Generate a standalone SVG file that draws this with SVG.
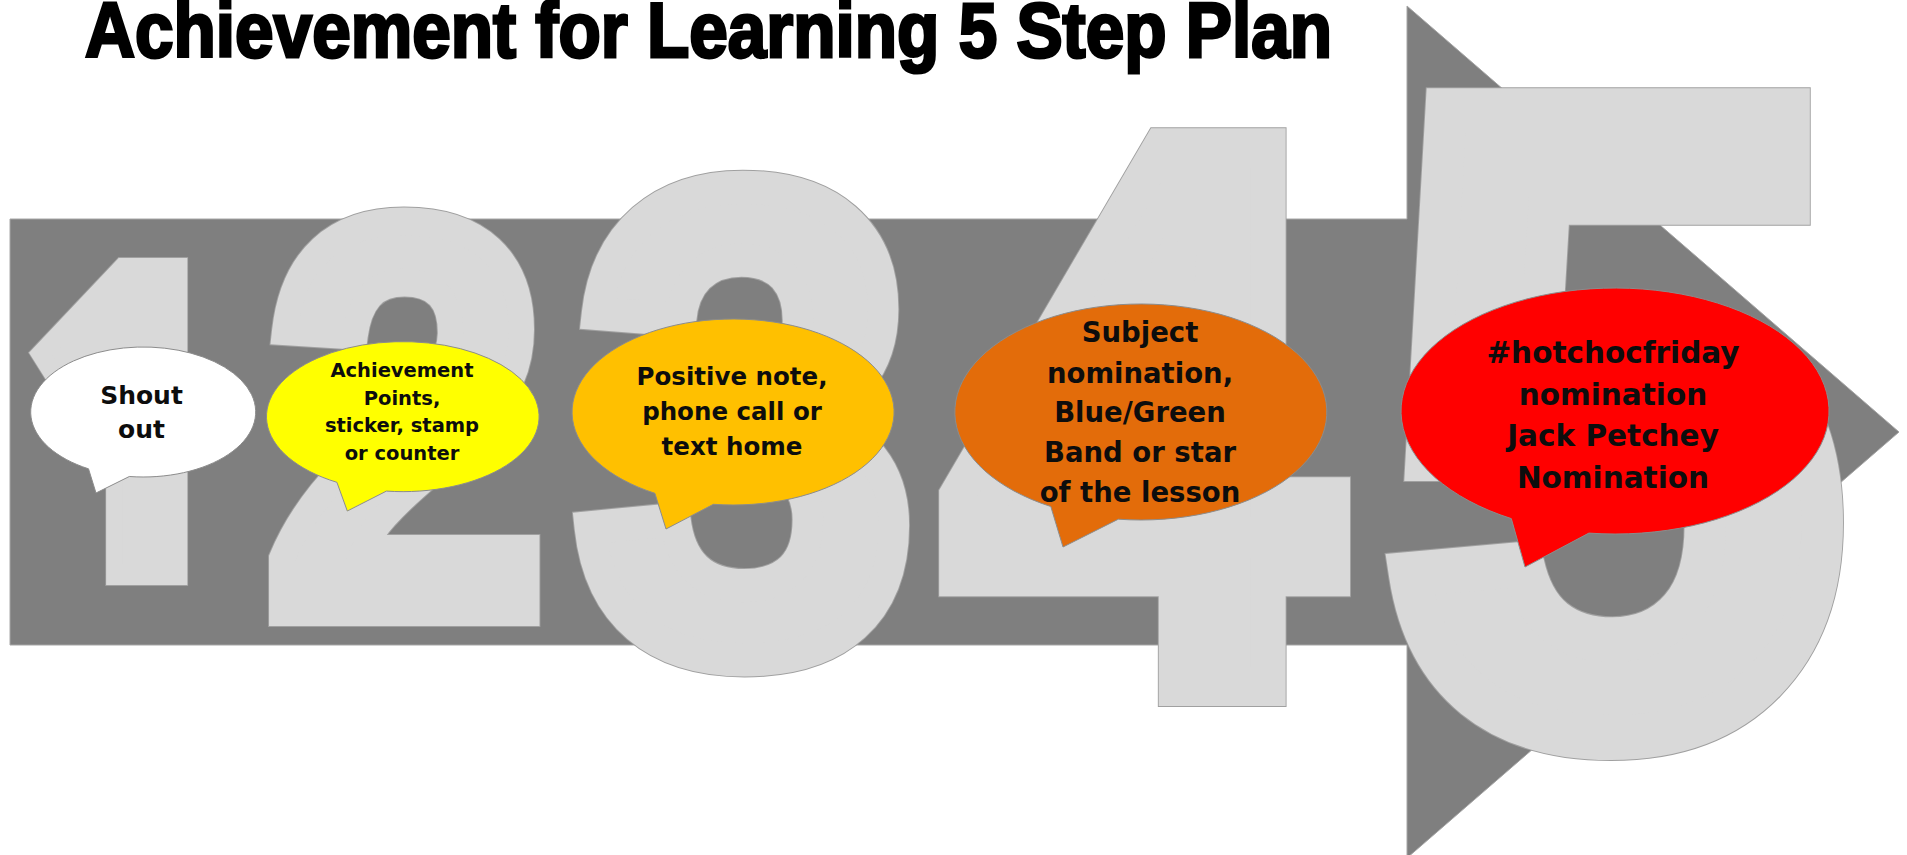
<svg xmlns="http://www.w3.org/2000/svg" width="1907" height="855" viewBox="0 0 1907 855">
<style>
.title{font-family:"Liberation Sans",Arial,sans-serif;font-weight:bold;font-size:78px;fill:#000;stroke:#000;stroke-width:3px}
.dg{font-family:"Liberation Sans",Arial,sans-serif;font-weight:bold;stroke-linejoin:miter;stroke-miterlimit:3}
.dg1{font-family:"Open Sans","Noto Sans",sans-serif;font-weight:800;stroke-linejoin:miter;stroke-miterlimit:3}
.dgo{fill:#a0a0a0;stroke:#a0a0a0}
.dgf{fill:#d9d9d9;stroke:#d9d9d9}
.bt{font-family:"DejaVu Sans",Verdana,sans-serif;font-weight:bold;fill:#0d0d0d;text-anchor:middle}
.bub{stroke:#8c8c8c;stroke-width:1}
</style>
<rect width="1907" height="855" fill="#fff"/>
<text id="title" class="title" x="85" y="57" textLength="1247" lengthAdjust="spacingAndGlyphs">Achievement for Learning 5 Step Plan</text>
<g id="arrow">
<polygon points="10,219 1407,219 1407,6 1899,432 1407,858 1407,645 10,645" fill="#7f7f7f" stroke="#a6a6a6" stroke-width="1"/>
</g>
<g id="digit-1" transform="translate(27.1,574.3) scale(0.772,1)">
<text class="dg1 dgo" font-size="428" stroke-width="23.4">1</text>
<text class="dg1 dgf" font-size="428" stroke-width="21.4">1</text>
</g>
<g id="digit-2" transform="translate(264.1,612) scale(0.91,1)">
<text class="dg dgo" font-size="559.3" stroke-width="29.9">2</text>
<text class="dg dgf" font-size="559.3" stroke-width="27.9">2</text>
</g>
<g id="digit-3" transform="translate(575.9,652.3) scale(0.918,1)">
<text class="dg dgo" font-size="666" stroke-width="35.3">3</text>
<text class="dg dgf" font-size="666" stroke-width="33.3">3</text>
</g>
<g id="digit-4" transform="translate(946.1,686.5) scale(0.896,1)">
<text class="dg dgo" font-size="783" stroke-width="41.2">4</text>
<text class="dg dgf" font-size="783" stroke-width="39.2">4</text>
</g>
<g id="digit-5" transform="translate(1384.2,728.8) scale(0.923,1)">
<text class="dg dgo" font-size="898.4" stroke-width="46.9">5</text>
<text class="dg dgf" font-size="898.4" stroke-width="44.9">5</text>
</g>
<g id="connectors"></g>
<g id="bubble-1">
<path class="bub" fill="#ffffff" d="M129.3,476.5 A112.5,65 0 1 0 88.5,468.8 L96,493 Z"/>
<text class="bt" font-size="25" x="141.5" y="404">Shout</text>
<text class="bt" font-size="25" x="141.5" y="438">out</text>
</g>
<g id="bubble-2">
<path class="bub" fill="#ffff00" d="M386.4,491.1 A136.3,75 0 1 0 336.9,482.3 L347.3,511 Z"/>
<text class="bt" font-size="19.5" x="402" y="377">Achievement</text>
<text class="bt" font-size="19.5" x="402" y="404.5">Points,</text>
<text class="bt" font-size="19.5" x="402" y="432">sticker, stamp</text>
<text class="bt" font-size="19.5" x="402" y="459.5">or counter</text>
</g>
<g id="bubble-3">
<path class="bub" fill="#ffc000" d="M713.4,504.3 A161,93 0 1 0 654.9,493.3 L666,529 Z"/>
<text class="bt" font-size="24.5" x="732" y="385">Positive note,</text>
<text class="bt" font-size="24.5" x="732" y="420">phone call or</text>
<text class="bt" font-size="24.5" x="732" y="455">text home</text>
</g>
<g id="bubble-4">
<path class="bub" fill="#e36c0a" d="M1118.3,519.2 A186,108 0 1 0 1050.8,506.5 L1063,547 Z"/>
<text class="bt" font-size="27.5" x="1140" y="342">Subject</text>
<text class="bt" font-size="27.5" x="1140" y="383">nomination,</text>
<text class="bt" font-size="27.5" x="1140" y="422">Blue/Green</text>
<text class="bt" font-size="27.5" x="1140" y="462">Band or star</text>
<text class="bt" font-size="27.5" x="1140" y="502">of the lesson</text>
</g>
<g id="bubble-5">
<path class="bub" fill="#ff0000" d="M1588.9,533.1 A214,123 0 1 0 1511.3,518.6 L1525,567 Z"/>
<text class="bt" font-size="29.5" x="1613" y="363">#hotchocfriday</text>
<text class="bt" font-size="29.5" x="1613" y="404.5">nomination</text>
<text class="bt" font-size="29.5" x="1613" y="446">Jack Petchey</text>
<text class="bt" font-size="29.5" x="1613" y="488">Nomination</text>
</g>
</svg>
